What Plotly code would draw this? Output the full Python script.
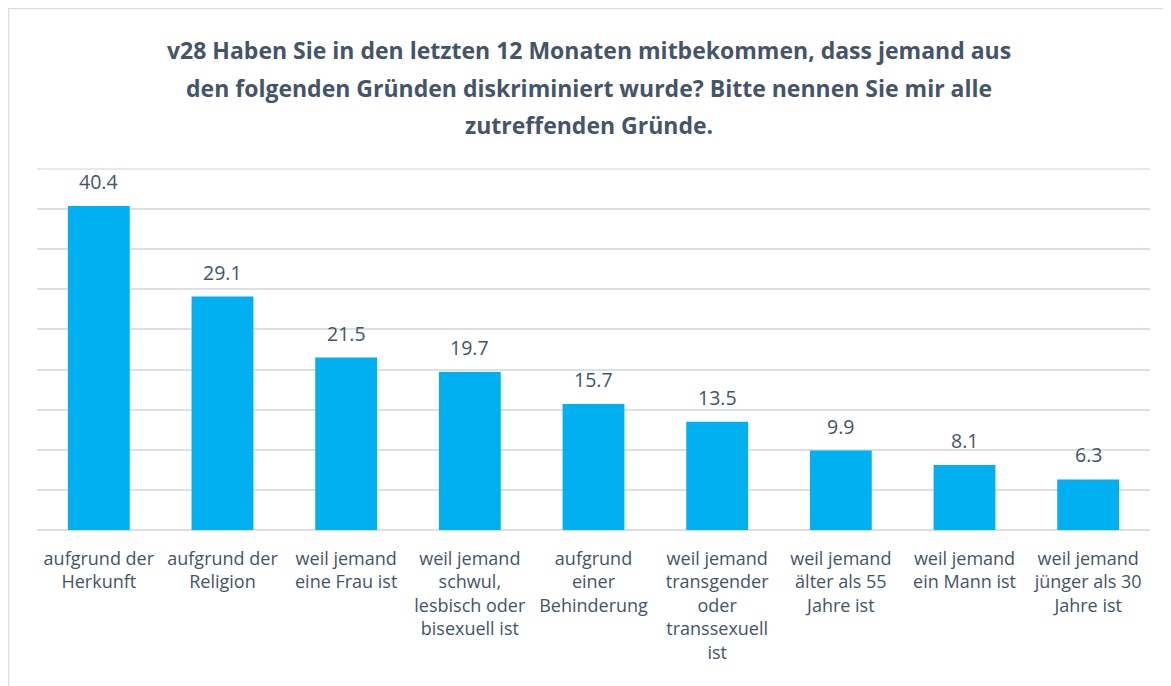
import plotly.graph_objects as go

# data
categories = [
    "aufgrund der<br>Herkunft",
    "aufgrund der<br>Religion",
    "weil jemand<br>eine Frau ist",
    "weil jemand<br>schwul,<br>lesbisch oder<br>bisexuell ist",
    "aufgrund<br>einer<br>Behinderung",
    "weil jemand<br>transgender<br>oder<br>transsexuell<br>ist",
    "weil jemand<br>älter als 55<br>Jahre ist",
    "weil jemand<br>ein Mann ist",
    "weil jemand<br>jünger als 30<br>Jahre ist",
]
values = [40.4, 29.1, 21.5, 19.7, 15.7, 13.5, 9.9, 8.1, 6.3]

title_lines = [
    "v28 Haben Sie in den letzten 12 Monaten mitbekommen, dass jemand aus",
    "den folgenden Gründen diskriminiert wurde? Bitte nennen Sie mir alle",
    "zutreffenden Gründe.",
]

W, H = 1171, 686
OFF = 8  # page body margin, figure starts at (8, 8)
ML, MT = 37 - OFF, 169 - OFF
MR = W - (1150 - OFF)
MB = H - (530 - OFF)
TXT = "#44546A"
GRID = "#DCE0E6"
FONT = "Open Sans"

fig = go.Figure()
fig.add_trace(go.Bar(
    x=categories, y=values,
    marker=dict(color="#00B0F0", line=dict(width=0)),
    width=0.5,
    hoverinfo="x+y",
))

# value labels above the bars
for c, v in zip(categories, values):
    fig.add_annotation(
        x=c, y=v, text=f"{v:.1f}", showarrow=False,
        yanchor="bottom", yshift=9,
        font=dict(size=19.5, color=TXT, family=FONT),
    )

pw = W - ML - MR
ph = H - MT - MB

# title, one annotation per line to match the line spacing
for i, line in enumerate(title_lines):
    fig.add_annotation(
        xref="paper", yref="paper",
        x=(589 - OFF - ML) / pw,
        y=1 + (MT - (50 - OFF + 37.5 * i)) / ph,
        text="<b>" + line + "</b>", showarrow=False,
        xanchor="center", yanchor="middle",
        font=dict(size=23, color=TXT, family=FONT),
    )

fig.update_layout(
    width=W, height=H,
    margin=dict(l=ML, r=MR, t=MT, b=MB, autoexpand=False),
    paper_bgcolor="white", plot_bgcolor="white",
    showlegend=False,
    font=dict(family=FONT, color=TXT),
    xaxis=dict(
        showgrid=False, showline=False, zeroline=False, ticks="",
        tickfont=dict(size=18, color=TXT, family=FONT),
        tickangle=0, automargin=False, ticklabelstandoff=16,
    ),
    yaxis=dict(
        range=[0, 45], dtick=5, showticklabels=False,
        showgrid=True, gridcolor=GRID, gridwidth=1.5,
        zeroline=True, zerolinecolor=GRID, zerolinewidth=1.5,
        showline=False, ticks="", automargin=False,
    ),
    shapes=[dict(
        type="rect", xref="paper", yref="paper",
        x0=-(ML - 0.5) / pw, x1=1 + (MR - (W - 1160)) / pw,
        y0=-(MB + 20) / ph, y1=1 + (MT - 0.5) / ph,
        line=dict(color=GRID, width=1.5), layer="below",
    ), dict(
        type="line", xref="paper", yref="paper",
        x0=0, x1=1, y0=1, y1=1,
        line=dict(color=GRID, width=1.5), layer="below",
    )],
)

fig.write_html("out.html")
